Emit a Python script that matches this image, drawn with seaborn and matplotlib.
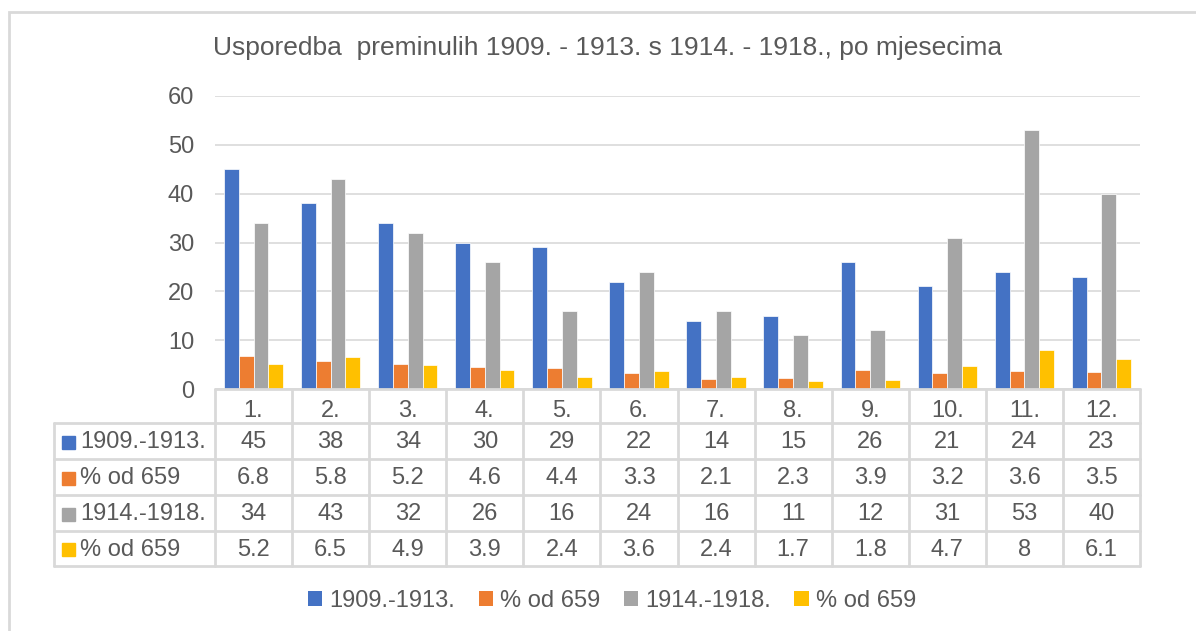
import matplotlib
matplotlib.use("Agg")
import matplotlib.pyplot as plt
import matplotlib.transforms as mtransforms
from matplotlib.patches import Patch, Rectangle
from matplotlib.lines import Line2D
import pandas as pd
import seaborn as sns

sns.set_style("white")
plt.rcParams["font.family"] = ["Liberation Sans", "DejaVu Sans"]

TXT = "#595959"
LINE = "#D9D9D9"
FS = 17

months = ["1.", "2.", "3.", "4.", "5.", "6.", "7.", "8.", "9.", "10.", "11.", "12."]
deaths_1909_1913 = [45, 38, 34, 30, 29, 22, 14, 15, 26, 21, 24, 23]
pct_1909_1913 = [6.8, 5.8, 5.2, 4.6, 4.4, 3.3, 2.1, 2.3, 3.9, 3.2, 3.6, 3.5]
deaths_1914_1918 = [34, 43, 32, 26, 16, 24, 16, 11, 12, 31, 53, 40]
pct_1914_1918 = [5.2, 6.5, 4.9, 3.9, 2.4, 3.6, 2.4, 1.7, 1.8, 4.7, 8, 6.1]

series_keys = ["a", "b", "c", "d"]
series_labels = ["1909.-1913.", "% od 659", "1914.-1918.", "% od 659"]
series_values = [deaths_1909_1913, pct_1909_1913, deaths_1914_1918, pct_1914_1918]
colors = ["#4472C4", "#ED7D31", "#A5A5A5", "#FFC000"]

rows = []
for key, vals in zip(series_keys, series_values):
    for m, v in zip(months, vals):
        rows.append({"month": m, "series": key, "value": v})
df = pd.DataFrame(rows)

W, H = 1196, 631
fig = plt.figure(figsize=(W / 100, H / 100), dpi=100)

def fx(px):
    return px / W

def fy(py):
    return 1 - py / H

ax_l, ax_r, ax_t, ax_b = 215, 1140, 96, 389
ax = fig.add_axes([fx(ax_l), fy(ax_b), fx(ax_r) - fx(ax_l), fy(ax_t) - fy(ax_b)])

sns.barplot(data=df, x="month", y="value", hue="series", order=months,
            hue_order=series_keys, palette=dict(zip(series_keys, colors)),
            saturation=1, width=0.77, gap=0, edgecolor="white", linewidth=0.5,
            legend=False, ax=ax)

ax.set_xlim(-0.5, len(months) - 0.5)
ax.set_ylim(0, 60)
ax.set_yticks(range(0, 61, 10))
ax.yaxis.grid(True, color=LINE, linewidth=1.2)
ax.set_axisbelow(True)
for s in ax.spines.values():
    s.set_visible(False)
ax.tick_params(axis="y", length=0, pad=15, labelsize=FS, labelcolor=TXT)
ax.tick_params(axis="x", length=0, pad=8, labelsize=FS, labelcolor=TXT)
ax.set_xlabel("")
ax.set_ylabel("")

# data table under the plot
row_y = [389, 423, 459, 495, 531, 566]
lab_left = (54 - ax_l) / (ax_r - ax_l)
tr_ax = mtransforms.blended_transform_factory(ax.transAxes, fig.transFigure)
tr_data = mtransforms.blended_transform_factory(ax.transData, fig.transFigure)

def hline(x0, x1, py):
    fig.add_artist(Line2D([x0, x1], [fy(py), fy(py)], transform=tr_ax,
                          color=LINE, linewidth=2))

hline(0, 1, row_y[0])
for py in row_y[1:]:
    hline(lab_left, 1, py)
for i in range(len(months) + 1):
    fig.add_artist(Line2D([i - 0.5, i - 0.5], [fy(row_y[0]), fy(row_y[-1])],
                          transform=tr_data, color=LINE, linewidth=2))
fig.add_artist(Line2D([lab_left, lab_left], [fy(row_y[1]), fy(row_y[-1])],
                      transform=tr_ax, color=LINE, linewidth=2))

for r, (lab, vals, col) in enumerate(zip(series_labels, series_values, colors)):
    yc = (row_y[r + 1] + row_y[r + 2]) / 2 + 1
    fig.add_artist(Rectangle((fx(62), fy(yc + 6.5)), fx(13), 13 / H,
                             transform=fig.transFigure, color=col))
    fig.text(fx(80), fy(yc), lab, ha="left", va="center",
             fontsize=FS, color=TXT)
    for i, v in enumerate(vals):
        fig.text(i, fy(yc), f"{v:g}", transform=tr_data, ha="center",
                 va="center", fontsize=FS, color=TXT)

fig.text(fx(608), fy(48), "Usporedba  preminulih 1909. - 1913. s 1914. - 1918., po mjesecima",
         ha="center", va="center", fontsize=19, color=TXT)

handles = [Patch(facecolor=c, edgecolor="none") for c in colors]
fig.legend(handles, series_labels, loc="center", bbox_to_anchor=(fx(612), fy(601)),
           ncol=4, frameon=False, fontsize=FS, labelcolor=TXT,
           handlelength=0.6, handleheight=0.6, handletextpad=0.3,
           columnspacing=1.0)

# chart frame
fig.add_artist(Rectangle((fx(9), -0.1), 1.2, fy(12) + 0.1, transform=fig.transFigure,
                         fill=False, edgecolor=LINE, linewidth=2))

fig.savefig("out.png", dpi=100, facecolor="white")
